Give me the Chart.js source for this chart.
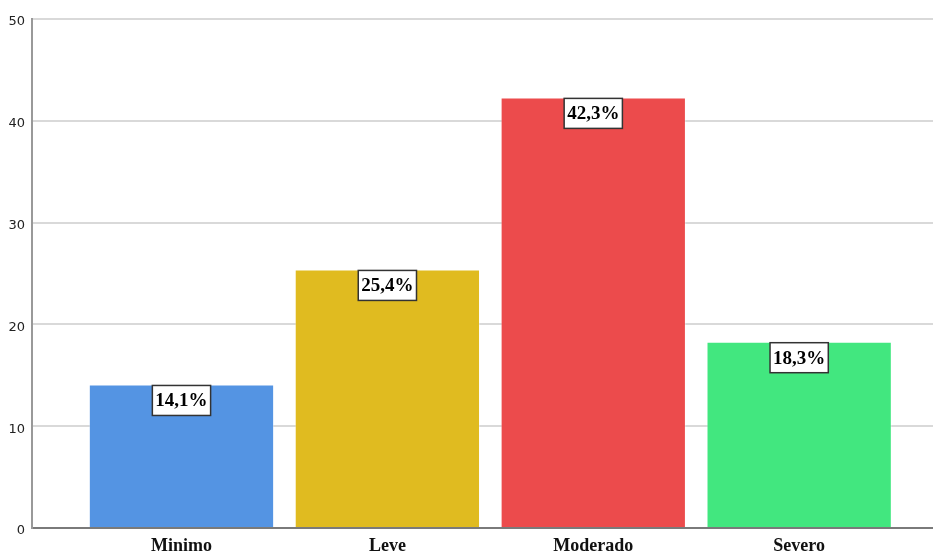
<!DOCTYPE html>
<html>
<head>
<meta charset="utf-8">
<script src="https://cdn.jsdelivr.net/npm/chart.js@4"></script>
<style>
  html, body { margin: 0; padding: 0; background: #fff; }
  #wrap { width: 933px; height: 558px; }
</style>
</head>
<body>
<div id="wrap"><canvas id="barChart" width="933" height="558"></canvas></div>
<script>
// data
var categories = ["Minimo", "Leve", "Moderado", "Severo"];
var percents = [14.1, 25.4, 42.3, 18.3];
var barColors = ["#5494E3", "#E0BB20", "#EC4B4C", "#42E77F"];
var yTicks = [0, 10, 20, 30, 40, 50];

// boxed value label on top of each bar
var boxLabels = {
  id: 'boxLabels',
  afterDatasetsDraw: function(chart) {
    var ctx = chart.ctx;
    var meta = chart.getDatasetMeta(0);
    ctx.save();
    ctx.font = 'bold 19px "Liberation Serif", "Times New Roman", serif';
    ctx.textAlign = 'center';
    ctx.textBaseline = 'middle';
    meta.data.forEach(function(bar, i) {
      var txt = percents[i].toFixed(1).replace('.', ',') + '%';
      var w = ctx.measureText(txt).width + 6;
      var h = 30;
      var x = bar.x - w / 2;
      var y = bar.y + 1;
      ctx.fillStyle = '#fff';
      ctx.fillRect(x, y, w, h);
      ctx.strokeStyle = '#333';
      ctx.lineWidth = 1.5;
      ctx.strokeRect(x, y, w, h);
      ctx.fillStyle = '#000';
      ctx.fillText(txt, bar.x, y + h / 2 + 1);
    });
    ctx.restore();
  }
};

var chart = new Chart(document.getElementById('barChart').getContext('2d'), {
  type: 'bar',
  data: {
    datasets: [{
      data: percents.map(function(v, i) { return { x: i, y: v }; }),
      backgroundColor: barColors,
      borderColor: 'rgba(255,255,255,0.35)',
      borderWidth: 1,
      categoryPercentage: 0.9,
      barPercentage: 1
    }]
  },
  options: {
    responsive: false,
    animation: false,
    events: [],
    layout: { padding: { top: 19, right: 0, left: 0, bottom: 0 } },
    plugins: {
      legend: { display: false },
      tooltip: { enabled: false }
    },
    scales: {
      x: {
        type: 'linear',
        offset: false,
        min: -0.726,
        max: 3.65,
        grid: { display: false, drawTicks: false },
        border: { color: '#7a7a7a', width: 2 },
        afterBuildTicks: function(s) {
          s.ticks = categories.map(function(c, i) { return { value: i }; });
        },
        afterFit: function(s) { s.height = 30; },
        ticks: {
          autoSkip: false,
          maxRotation: 0,
          padding: 8,
          color: '#111',
          font: { family: '"Liberation Serif", "Times New Roman", serif', size: 18, weight: 'bold' },
          callback: function(v) { return categories[v]; }
        }
      },
      y: {
        min: 0,
        max: 50,
        afterBuildTicks: function(s) {
          s.ticks = yTicks.map(function(v) { return { value: v }; });
        },
        afterFit: function(s) { s.width = 32; },
        grid: { color: '#d9d9d9', lineWidth: 2, drawTicks: false },
        border: { color: '#999', width: 2 },
        ticks: {
          padding: 7,
          labelOffset: 3,
          color: '#222',
          font: { family: '"DejaVu Sans", sans-serif', size: 13 }
        }
      }
    }
  },
  plugins: [boxLabels]
});
</script>
</body>
</html>
